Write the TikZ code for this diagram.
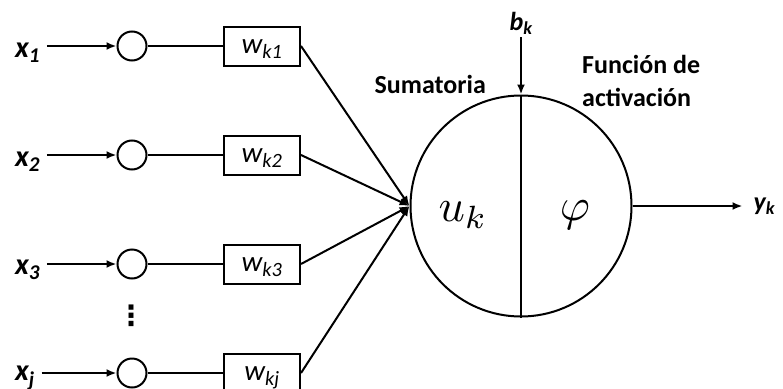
\documentclass[tikz,border=0pt]{standalone}
\usepackage{fontspec}
\setsansfont{Carlito}
\newfontfamily\symfont{DejaVu Sans}
\usepackage{amsmath}
\usepackage{tikz}
\usetikzlibrary{positioning, arrows.meta, calc}

\begin{document}
\begin{tikzpicture}[
                x=1pt, y=-1pt,
                junction/.style={draw=black, line width=2pt, circle, minimum size=29pt, inner sep=0pt},
                weight/.style={draw=black, line width=2pt, rectangle, minimum width=76pt, minimum height=39pt, inner sep=0pt, text height=14pt, text depth=0pt, font=\sffamily\itshape\fontsize{29}{29}\selectfont},
                neuron/.style={draw=black, line width=2pt, circle, minimum size=221pt, inner sep=0pt},
                inlabel/.style={font=\sffamily\bfseries\itshape\fontsize{30}{30}\selectfont, inner sep=0pt, outer xsep=7pt, anchor=base west},
                smlabel/.style={font=\sffamily\bfseries\itshape\fontsize{26}{26}\selectfont, inner sep=0pt},
                caption/.style={font=\sffamily\bfseries\fontsize{26}{33}\selectfont, align=left, inner sep=0pt},
                symb/.style={font=\normalsize, scale=4.6, inner sep=0pt},
                edge/.style={line width=2pt},
                arrow/.style={edge, -{Latex[length=10pt, width=8pt]}}
            ]
            \useasboundingbox (0,0) rectangle (783,388);

            % Eingaenge
            \node[junction] (c1) at (132,46) {};
            \node[junction, below=78pt of c1] (c2) {};
            \node[junction, below=78pt of c2] (c3) {};
            \node[junction, below=78pt of c3] (cj) {};
            \node[font=\symfont\bfseries\fontsize{28}{28}\selectfont, inner sep=0pt] (dots) at (131,316) {⋮};

            \node[inlabel] (x1) at ([xshift=-124pt, yshift=-11pt] c1) {x\textsubscript{1}};
            \node[inlabel] (x2) at ([xshift=-124pt, yshift=-11pt] c2) {x\textsubscript{2}};
            \node[inlabel] (x3) at ([xshift=-124pt, yshift=-10pt] c3) {x\textsubscript{3}};
            \node[inlabel] (xj) at ([xshift=-124pt, yshift=-7pt] cj) {x\textsubscript{j}};

            \node[weight, right=75.5pt of c1] (w1) {w\textsubscript{k1}};
            \node[weight, right=75.5pt of c2] (w2) {w\textsubscript{k2}};
            \node[weight, right=75.5pt of c3] (w3) {w\textsubscript{k3}};
            \node[weight, right=75.5pt of cj] (wj) {w\textsubscript{kj}};

            % Neurona
            \node[neuron] (sum) at (521,206) {};
            \node[symb] (uk) at ([xshift=-58pt, yshift=-9pt] sum) {$u_k$};
            \node[symb] (phi) at ([xshift=54pt, yshift=-9pt] sum) {$\varphi$};
            \node[smlabel] (bk) at ([yshift=183pt] sum) {b\textsubscript{k}};
            \node[smlabel, right=121pt of sum.east] (yk) {y\textsubscript{k}};
            \node[caption, anchor=base east] (sumlbl) at (486,93) {Sumatoria};
            \node[caption, anchor=north west] (actlbl) at (582,55) {Función de\\activación};

            % Kanten
            \draw[arrow] (x1.east |- c1) -- (c1);
            \draw[arrow] (x2.east |- c2) -- (c2);
            \draw[arrow] (x3.east |- c3) -- (c3);
            \draw[arrow] (xj.east |- cj) -- (cj);
            \draw[edge] (c1) -- (w1);
            \draw[edge] (c2) -- (w2);
            \draw[edge] (c3) -- (w3);
            \draw[edge] (cj) -- (wj);
            \draw[arrow] (w1.east) -- (sum.west);
            \draw[arrow] (w2.east) -- (sum.west);
            \draw[arrow] (w3.east) -- (sum.west);
            \draw[arrow] (wj.east) -- (sum.west);
            \draw[edge] (sum.north) -- (sum.south);
            \draw[arrow] ([yshift=-3pt] bk.south) -- (sum.north);
            \draw[arrow] (sum.east) -- ([xshift=-11pt] yk.west);

        \end{tikzpicture}
\end{document}
